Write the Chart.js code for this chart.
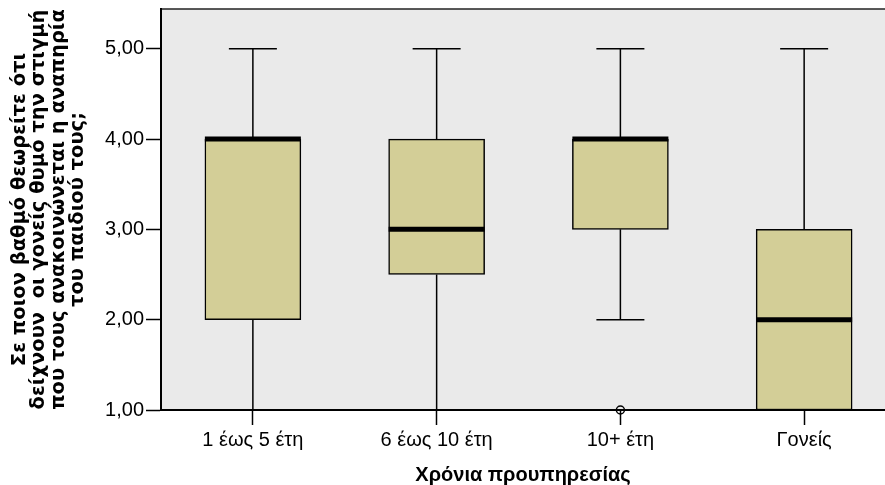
<!DOCTYPE html>
<html>
<head>
<meta charset="utf-8">
<script src="https://cdn.jsdelivr.net/npm/chart.js@4/dist/chart.umd.min.js"></script>
<style>
  html, body { margin: 0; padding: 0; background: #fff; }
  #wrap { width: 885px; height: 485px; }
</style>
</head>
<body>
<div id="wrap"><canvas id="chart" width="885" height="485"></canvas></div>
<script>
const categories = ['1 έως 5 έτη', '6 έως 10 έτη', '10+ έτη', 'Γονείς'];
const whiskerLow = [1, 1, 2, 1];
const quartile1 = [2, 2.5, 3, 1];
const medians = [4, 3, 4, 2];
const quartile3 = [4, 4, 4, 3];
const whiskerHigh = [5, 5, 5, 5];
const outliers = [{ x: 3, y: 1 }];
const yTicks = [1, 2, 3, 4, 5];

const yTitle = [
  'Σε ποιον βαθμό θεωρείτε ότι',
  'δείχνουν  οι γονείς θυμό την στιγμή',
  'που τους ανακοινώνεται η αναπηρία',
  'του παιδιού τους;'
];
const xTitle = 'Χρόνια προυπηρεσίας';

const ctx = document.getElementById('chart').getContext('2d');
Chart.defaults.font.family = '"Liberation Sans", Arial, sans-serif';
Chart.defaults.color = '#000';

// plot background and top frame line
const plotBg = {
  id: 'plotBg',
  beforeDraw(chart) {
    const { ctx, chartArea: a } = chart;
    ctx.save();
    ctx.fillStyle = '#eaeaea';
    ctx.fillRect(a.left, a.top, a.right - a.left, a.bottom - a.top);
    ctx.strokeStyle = '#222';
    ctx.lineWidth = 1.5;
    ctx.beginPath();
    ctx.moveTo(a.left, a.top);
    ctx.lineTo(a.right, a.top);
    ctx.stroke();
    ctx.restore();
  }
};

// whiskers and median lines
const boxParts = {
  id: 'boxParts',
  afterDatasetsDraw(chart) {
    const { ctx, scales: { x, y } } = chart;
    const meta = chart.getDatasetMeta(0);
    ctx.save();
    ctx.strokeStyle = '#000';
    categories.forEach((c, i) => {
      const cx = x.getPixelForValue(i + 1);
      const half = meta.data[i].width / 2;
      const cap = half / 2;
      ctx.lineWidth = 1.5;
      ctx.beginPath();
      // upper whisker
      ctx.moveTo(cx, y.getPixelForValue(quartile3[i]));
      ctx.lineTo(cx, y.getPixelForValue(whiskerHigh[i]));
      ctx.moveTo(cx - cap, y.getPixelForValue(whiskerHigh[i]));
      ctx.lineTo(cx + cap, y.getPixelForValue(whiskerHigh[i]));
      // lower whisker
      if (whiskerLow[i] < quartile1[i]) {
        ctx.moveTo(cx, y.getPixelForValue(quartile1[i]));
        ctx.lineTo(cx, y.getPixelForValue(whiskerLow[i]));
        ctx.moveTo(cx - cap, y.getPixelForValue(whiskerLow[i]));
        ctx.lineTo(cx + cap, y.getPixelForValue(whiskerLow[i]));
      }
      ctx.stroke();
      // median
      ctx.lineWidth = 5;
      ctx.beginPath();
      const my = y.getPixelForValue(medians[i]);
      ctx.moveTo(cx - half, my);
      ctx.lineTo(cx + half, my);
      ctx.stroke();
    });
    ctx.restore();
  }
};

const noPad = s => {
  s.paddingTop = 0; s.paddingBottom = 0;
  s.paddingLeft = 0; s.paddingRight = 0;
};

new Chart(ctx, {
  type: 'bar',
  data: {
    datasets: [{
      label: 'box',
      data: categories.map((c, i) => ({ x: i + 1, y: [quartile1[i], quartile3[i]] })),
      backgroundColor: '#d3ce97',
      borderColor: '#000',
      borderWidth: 1.5,
      borderSkipped: false,
      barThickness: 96
    }, {
      type: 'scatter',
      label: 'outliers',
      data: outliers,
      pointRadius: 4,
      pointHoverRadius: 4,
      pointStyle: 'circle',
      borderColor: '#000',
      borderWidth: 1.5,
      backgroundColor: 'rgba(0,0,0,0)',
      clip: false
    }]
  },
  options: {
    responsive: false,
    animation: false,
    layout: { autoPadding: false, padding: { top: 9, right: 0, left: 0, bottom: 0 } },
    plugins: {
      legend: { display: false },
      tooltip: { enabled: false }
    },
    scales: {
      x: {
        type: 'linear',
        min: 0.5,
        max: 4.44,
        offset: false,
        afterBuildTicks: s => { s.ticks = categories.map((c, i) => ({ value: i + 1 })); },
        afterFit: s => { s.height = 75; noPad(s); },
        ticks: {
          callback: v => categories[v - 1],
          font: { size: 20 },
          padding: 3,
          maxRotation: 0,
          autoSkip: false
        },
        grid: { offset: false, drawOnChartArea: false, tickLength: 15, color: '#000', tickWidth: 1.5 },
        border: { display: true, color: '#000', width: 2 },
        title: {
          display: true,
          text: xTitle,
          font: { size: 20, weight: 'bold', lineHeight: 1 },
          padding: { top: 0, bottom: 0 }
        }
      },
      y: {
        min: 1,
        max: 5.44,
        afterBuildTicks: s => { s.ticks = yTicks.map(v => ({ value: v })); },
        afterFit: s => { s.width = 161; noPad(s); },
        ticks: {
          callback: v => v.toFixed(2).replace('.', ','),
          font: { size: 20 },
          padding: 2
        },
        grid: { drawOnChartArea: false, tickLength: 15, color: '#000', tickWidth: 1.5 },
        border: { display: true, color: '#000', width: 2 },
        title: {
          display: true,
          text: yTitle,
          font: { family: '"DejaVu Sans", sans-serif', size: 19.5, weight: 'bold', lineHeight: 1.0 },
          padding: { top: 10, bottom: 0 }
        }
      }
    }
  },
  plugins: [plotBg, boxParts]
});
</script>
</body>
</html>
